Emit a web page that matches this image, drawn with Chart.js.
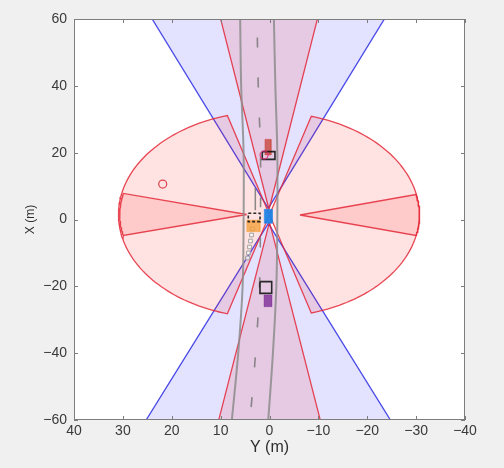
<!DOCTYPE html>
<html>
<head>
<meta charset="utf-8">
<script src="https://cdn.jsdelivr.net/npm/chart.js@4.4.0/dist/chart.umd.min.js"></script>
<style>
  html, body { margin: 0; padding: 0; background: #f0f0f0; }
  #wrap { width: 504px; height: 468px; }
</style>
</head>
<body>
<div id="wrap"><canvas id="bep" width="504" height="468"></canvas></div>
<script>
// tick values (Y is lateral, shown left->right from +40 to -40)
const yTicks = [40, 30, 20, 10, 0, -10, -20, -30, -40];
const xTicks = [60, 40, 20, 0, -20, -40, -60];

// road edges, Y (m) at given X (m)
const roadX = [60, 40, 20, 0, -20, -40, -60];
const roadLeftY = [6.0, 5.8, 5.3, 5.3, 5.5, 6.4, 7.7];
const roadRightY = [-0.9, -1.2, -1.6, -1.6, -1.4, -0.7, 0.25];

// cameras (blue): apex Y, apex X, yaw (deg), fov (deg), range (m)
const camY = [0.25, 0.25];
const camX = [3.35, -1.14];
const camYaw = [0, 180];
const camFov = [45.5, 46];
const camRange = [100, 100];

// long range radars (red, front / rear)
const lrrY = [0.1, 0.0];
const lrrX = [3.0, -0.8];
const lrrYaw = [0, 180];
const lrrFov = [19.7, 19.9];
const lrrRange = [100, 100];

// short range radars (red, wide side lobes)
const srrY = [0, 0];
const srrX = [1.45, 1.45];
const srrYaw = [90, -90];
const srrFov = [147.6, 147.6];
const srrRange = [30.9, 30.65];

// mid range radars (red, narrow side sectors)
const mrrY = [4.66, -6.24];
const mrrX = [1.5, 1.35];
const mrrYaw = [90, -90];
const mrrFov = [28, 29];
const mrrRange = [26, 24.5];

// vehicles: centre Y, centre X, length, width
const vehNames = ['ego', 'lead', 'rear', 'left'];
const vehY = [0.25, 0.31, 0.34, 3.3];
const vehX = [0.96, 21.65, -24.35, -1.9];
const vehLen = [4.2, 4.7, 3.5, 3.5];
const vehWid = [1.63, 1.25, 1.57, 2.7];

// tracked object boxes
const detY = [0.18, 0.75, 3.14];
const detX = [19.15, -20.35, 0.6];
const detLen = [2.3, 3.5, 2.5];
const detWid = [2.6, 2.4, 2.4];

// point detections
const ptY = [21.85, 1.1];
const ptX = [10.6, 19.3];

// track history
const histY = [3.48, 3.68, 3.89, 4.09, 4.30, 4.50];
const histX = [-2.84, -4.64, -6.43, -8.23, -10.0, -11.5];
const trailY = [2.9, 2.9];
const trailX = [9.4, 2.8];

const fontFam = '"Liberation Sans", Arial, Helvetica, sans-serif';
const rad = d => d * Math.PI / 180;

function sectorPts(ay, ax, yaw, fov, range) {
    const pts = [{x: ay, y: ax}];
    const n = 90;
    for (let i = 0; i <= n; i++) {
        const a = rad(yaw - fov / 2 + fov * i / n);
        pts.push({x: ay + range * Math.sin(a), y: ax + range * Math.cos(a)});
    }
    pts.push({x: ay, y: ax});
    return pts;
}

function rectPts(cy, cx, len, wid) {
    return [
        {x: cy + wid / 2, y: cx + len / 2},
        {x: cy - wid / 2, y: cx + len / 2},
        {x: cy - wid / 2, y: cx - len / 2},
        {x: cy + wid / 2, y: cx - len / 2},
        {x: cy + wid / 2, y: cx + len / 2}
    ];
}

const blueFill = 'rgba(0,0,255,0.11)';
const blueEdge = 'rgba(55,55,230,0.9)';
const redFill = 'rgba(255,0,0,0.11)';
const redEdge = 'rgba(228,40,55,0.85)';

const layers = [];   // paint order, bottom first

function area(pts, fill, edge) {
    layers.push({data: pts, showLine: true, fill: 'shape', backgroundColor: fill,
        borderColor: edge, borderWidth: 1.3, pointRadius: 0, tension: 0, clip: 0});
}

for (let i = 0; i < camY.length; i++)
    area(sectorPts(camY[i], camX[i], camYaw[i], camFov[i], camRange[i]), blueFill, blueEdge);
for (let i = 0; i < srrY.length; i++)
    area(sectorPts(srrY[i], srrX[i], srrYaw[i], srrFov[i], srrRange[i]), redFill, redEdge);
for (let i = 0; i < mrrY.length; i++)
    area(sectorPts(mrrY[i], mrrX[i], mrrYaw[i], mrrFov[i], mrrRange[i]), redFill, redEdge);
for (let i = 0; i < lrrY.length; i++)
    area(sectorPts(lrrY[i], lrrX[i], lrrYaw[i], lrrFov[i], lrrRange[i]), redFill, redEdge);

// road
const roadLeft = roadX.map((x, i) => ({x: roadLeftY[i], y: x}));
const roadRight = roadX.map((x, i) => ({x: roadRightY[i], y: x}));
const roadMid = roadX.map((x, i) => ({x: (roadLeftY[i] + roadRightY[i]) / 2, y: x}));
[roadLeft, roadRight].forEach(d => layers.push({data: d, showLine: true, fill: false,
    borderColor: 'rgba(140,140,140,0.85)', borderWidth: 2, pointRadius: 0, tension: 0.35, clip: 0}));
layers.push({data: roadMid, showLine: true, fill: false, borderColor: 'rgba(120,120,120,0.85)',
    borderWidth: 1.6, borderDash: [10, 30], borderDashOffset: 21.5, pointRadius: 0, tension: 0.35, clip: 0});

// track history
layers.push({data: trailY.map((y, i) => ({x: y, y: trailX[i]})), showLine: true, fill: false,
    borderColor: 'rgba(110,110,110,0.8)', borderWidth: 1.5, pointRadius: 0, clip: 0});
layers.push({data: histY.map((y, i) => ({x: y, y: histX[i]})), showLine: false,
    pointStyle: 'rect', pointRadius: 2.6, pointBackgroundColor: 'rgba(255,255,255,0.8)',
    pointBorderColor: 'rgba(150,150,150,0.9)', pointBorderWidth: 1});

// vehicles
const vehFill = ['rgba(30,130,230,0.95)', 'rgba(200,70,60,0.8)', 'rgba(125,45,150,0.8)', 'rgba(245,160,60,0.8)'];
for (let i = 0; i < vehNames.length; i++) {
    layers.push({data: rectPts(vehY[i], vehX[i], vehLen[i], vehWid[i]), showLine: true, fill: 'shape',
        backgroundColor: vehFill[i], borderColor: vehFill[i], borderWidth: 0.5, pointRadius: 0, tension: 0});
}
// tracked object boxes
for (let i = 0; i < detY.length; i++) {
    layers.push({data: rectPts(detY[i], detX[i], detLen[i], detWid[i]), showLine: true, fill: false,
        borderColor: 'rgba(20,20,20,0.9)', borderWidth: 1.6, borderDash: i === 2 ? [3, 2] : [],
        pointRadius: 0, tension: 0});
}
layers.push({data: ptY.map((y, i) => ({x: y, y: ptX[i]})), showLine: false,
    pointStyle: 'circle', pointRadius: 4, pointBackgroundColor: 'rgba(0,0,0,0)',
    pointBorderColor: ['rgba(220,50,60,0.9)', 'rgba(230,40,120,0.9)'], pointBorderWidth: 1.2});

layers.forEach((d, i) => { d.order = layers.length - i; });

const fmt = v => (v < 0 ? '\u2212' + Math.abs(v) : String(v));

const axesBox = {
    id: 'axesBox',
    beforeDraw(chart) {
        const {ctx, chartArea: a} = chart;
        ctx.save();
        ctx.fillStyle = '#ffffff';
        ctx.fillRect(a.left, a.top, a.right - a.left, a.bottom - a.top);
        ctx.restore();
    },
    afterDraw(chart) {
        const {ctx, chartArea: a, scales} = chart;
        const tl = 4;
        ctx.save();
        ctx.strokeStyle = '#7d7d7d';
        ctx.lineWidth = 1;
        ctx.strokeRect(a.left + 0.5, a.top + 0.5, a.right - a.left - 1, a.bottom - a.top - 1);
        ctx.beginPath();
        scales.x.ticks.forEach(t => {
            const px = Math.round(scales.x.getPixelForValue(t.value)) + 0.5;
            ctx.moveTo(px, a.bottom); ctx.lineTo(px, a.bottom - tl);
            ctx.moveTo(px, a.top); ctx.lineTo(px, a.top + tl);
        });
        scales.y.ticks.forEach(t => {
            const py = Math.round(scales.y.getPixelForValue(t.value)) + 0.5;
            ctx.moveTo(a.left, py); ctx.lineTo(a.left + tl, py);
            ctx.moveTo(a.right, py); ctx.lineTo(a.right - tl, py);
        });
        ctx.stroke();
        ctx.restore();
    }
};

new Chart(document.getElementById('bep'), {
    type: 'scatter',
    data: {datasets: layers},
    options: {
        responsive: false,
        animation: false,
        events: [],
        layout: {padding: {top: 19, right: 39, left: 0, bottom: 0}},
        plugins: {legend: {display: false}, tooltip: {enabled: false}},
        scales: {
            x: {
                type: 'linear', min: -40, max: 40, reverse: true, position: 'bottom',
                grid: {display: false, drawTicks: false}, border: {display: false},
                afterBuildTicks: s => { s.ticks = yTicks.map(v => ({value: v})); },
                afterFit: s => { s.height = 48; },
                ticks: {font: {family: fontFam, size: 14}, color: '#3a3a3a', padding: 3,
                    maxRotation: 0, autoSkip: false, callback: v => fmt(v)},
                title: {display: true, text: 'Y (m)', color: '#2e2e2e',
                    font: {family: fontFam, size: 16}, padding: {top: 0, bottom: 11}}
            },
            y: {
                type: 'linear', min: -60, max: 60, position: 'left',
                grid: {display: false, drawTicks: false}, border: {display: false},
                afterBuildTicks: s => { s.ticks = xTicks.map(v => ({value: v})); },
                afterFit: s => { s.width = 74; },
                ticks: {font: {family: fontFam, size: 14}, color: '#3a3a3a', padding: 7,
                    autoSkip: false, callback: v => fmt(v)},
                title: {display: true, text: 'X (m)', color: '#2e2e2e',
                    font: {family: fontFam, size: 12}, padding: {top: 23, bottom: 0}}
            }
        }
    },
    plugins: [axesBox]
});
</script>
</body>
</html>
